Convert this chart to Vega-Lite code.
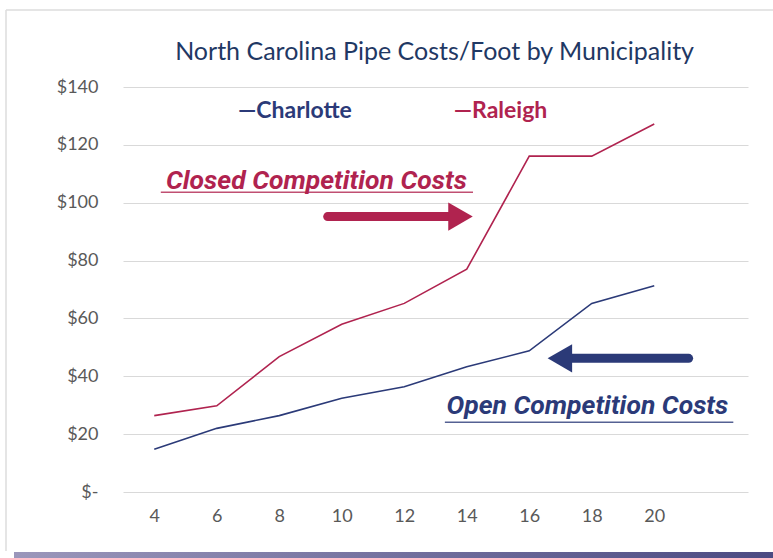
{
  "$schema": "https://vega.github.io/schema/vega-lite/v6.json",
  "width": 625,
  "height": 405,
  "autosize": "none",
  "padding": {"left": 123, "top": 87, "right": 25, "bottom": 66},
  "background": "white",
  "config": {
    "view": {"stroke": null},
    "font": "Lato"
  },
  "datasets": {
    "costs": [
      {"size": 4, "city": "Charlotte", "cost": 14.8},
      {"size": 6, "city": "Charlotte", "cost": 22.0},
      {"size": 8, "city": "Charlotte", "cost": 26.4},
      {"size": 10, "city": "Charlotte", "cost": 32.4},
      {"size": 12, "city": "Charlotte", "cost": 36.4},
      {"size": 14, "city": "Charlotte", "cost": 43.3},
      {"size": 16, "city": "Charlotte", "cost": 48.8},
      {"size": 18, "city": "Charlotte", "cost": 65.2},
      {"size": 20, "city": "Charlotte", "cost": 71.3},
      {"size": 4, "city": "Raleigh", "cost": 26.4},
      {"size": 6, "city": "Raleigh", "cost": 29.8},
      {"size": 8, "city": "Raleigh", "cost": 46.8},
      {"size": 10, "city": "Raleigh", "cost": 58.0},
      {"size": 12, "city": "Raleigh", "cost": 65.2},
      {"size": 14, "city": "Raleigh", "cost": 77.0},
      {"size": 16, "city": "Raleigh", "cost": 116.1},
      {"size": 18, "city": "Raleigh", "cost": 116.1},
      {"size": 20, "city": "Raleigh", "cost": 127.2}
    ],
    "title": [
      {"label": "North Carolina Pipe Costs/Foot by Municipality", "x": 12.97, "y": 152.1}
    ],
    "legend": [
      {"label": "—Charlotte", "city": "Charlotte", "x": 8.5, "y": 131.7},
      {"label": "—Raleigh", "city": "Raleigh", "x": 15.08, "y": 131.7}
    ],
    "notes": [
      {"label": "Closed Competition Costs", "city": "Raleigh", "x": 9.19, "y": 104.9},
      {"label": "Open Competition Costs", "city": "Charlotte", "x": 17.86, "y": 26.9}
    ],
    "underlines": [
      {"city": "Raleigh", "x": 4.21, "x2": 14.2, "y": 103.6},
      {"city": "Charlotte", "x": 13.3, "x2": 22.53, "y": 24.1}
    ],
    "shafts": [
      {"city": "Raleigh", "x": 9.55, "x2": 13.62, "y": 95.2},
      {"city": "Charlotte", "x": 17.14, "x2": 21.1, "y": 46.2}
    ],
    "heads": [
      {"city": "Raleigh", "x": 13.8, "y": 95.2, "dir": "right"},
      {"city": "Charlotte", "x": 16.98, "y": 46.2, "dir": "left"}
    ],
    "frameV": [
      {"x": -0.744, "y": 166.6, "y2": -20.4}
    ],
    "frameH": [
      {"x": -0.744, "x2": 24.2, "y": 166.6}
    ],
    "bar": [
      {"x": -0.488, "x2": 24.2, "y": -20.7, "y2": -23.3}
    ]
  },
  "layer": [
    {
      "data": {"name": "costs"},
      "mark": {"type": "line", "strokeWidth": 1.6, "clip": false},
      "encoding": {
        "x": {
          "field": "size",
          "type": "quantitative",
          "scale": {"domain": [3, 23], "nice": false, "zero": false},
          "axis": {
            "values": [4, 6, 8, 10, 12, 14, 16, 18, 20],
            "title": null,
            "grid": false,
            "domain": false,
            "ticks": false,
            "labelFont": "Lato",
            "labelFontSize": 18,
            "labelColor": "#595959",
            "labelPadding": 15
          }
        },
        "y": {
          "field": "cost",
          "type": "quantitative",
          "scale": {"domain": [0, 140], "nice": false},
          "axis": {
            "values": [0, 20, 40, 60, 80, 100, 120, 140],
            "title": null,
            "domain": false,
            "ticks": false,
            "gridColor": "#D9D9D9",
            "gridWidth": 1,
            "labelFont": "Lato",
            "labelFontSize": 18,
            "labelColor": "#595959",
            "labelPadding": 25,
            "labelExpr": "datum.value == 0 ? '$-' : '$' + datum.value"
          }
        },
        "color": {
          "field": "city",
          "type": "nominal",
          "scale": {"domain": ["Charlotte", "Raleigh"], "range": ["#2B3A78", "#B0234F"]},
          "legend": null
        },
        "detail": {"field": "city"}
      }
    },
    {
      "data": {"name": "title"},
      "mark": {"type": "text", "font": "Lato", "fontSize": 25, "color": "#1F3864", "align": "center", "baseline": "middle", "clip": false},
      "encoding": {
        "x": {"field": "x", "type": "quantitative"},
        "y": {"field": "y", "type": "quantitative"},
        "text": {"field": "label"}
      }
    },
    {
      "data": {"name": "legend"},
      "mark": {"type": "text", "font": "Lato", "fontSize": 23, "fontWeight": "bold", "align": "center", "baseline": "middle"},
      "encoding": {
        "x": {"field": "x", "type": "quantitative"},
        "y": {"field": "y", "type": "quantitative"},
        "text": {"field": "label"},
        "color": {"field": "city", "type": "nominal", "legend": null}
      }
    },
    {
      "data": {"name": "notes"},
      "mark": {"type": "text", "font": "Roboto", "fontSize": 26.5, "fontWeight": "bold", "fontStyle": "italic", "align": "center", "baseline": "alphabetic"},
      "encoding": {
        "x": {"field": "x", "type": "quantitative"},
        "y": {"field": "y", "type": "quantitative"},
        "text": {"field": "label"},
        "color": {"field": "city", "type": "nominal", "legend": null}
      }
    },
    {
      "data": {"name": "underlines"},
      "mark": {"type": "rule", "strokeWidth": 1.5, "opacity": 0.8, "clip": false},
      "encoding": {
        "x": {"field": "x", "type": "quantitative"},
        "x2": {"field": "x2"},
        "y": {"field": "y", "type": "quantitative"},
        "color": {"field": "city", "type": "nominal", "legend": null}
      }
    },
    {
      "data": {"name": "shafts"},
      "mark": {"type": "rule", "strokeWidth": 9, "strokeCap": "round", "clip": false},
      "encoding": {
        "x": {"field": "x", "type": "quantitative"},
        "x2": {"field": "x2"},
        "y": {"field": "y", "type": "quantitative"},
        "color": {"field": "city", "type": "nominal", "legend": null}
      }
    },
    {
      "data": {"name": "heads"},
      "mark": {"type": "point", "filled": true, "opacity": 1, "size": 800, "clip": false},
      "encoding": {
        "x": {"field": "x", "type": "quantitative"},
        "y": {"field": "y", "type": "quantitative"},
        "shape": {
          "field": "dir",
          "type": "nominal",
          "scale": {"domain": ["right", "left"], "range": ["triangle-right", "triangle-left"]},
          "legend": null
        },
        "color": {"field": "city", "type": "nominal", "legend": null}
      }
    },
    {
      "data": {"name": "frameV"},
      "mark": {"type": "rule", "color": "#DDDDDD", "strokeWidth": 1.5, "clip": false},
      "encoding": {
        "x": {"field": "x", "type": "quantitative"},
        "y": {"field": "y", "type": "quantitative"},
        "y2": {"field": "y2"}
      }
    },
    {
      "data": {"name": "frameH"},
      "mark": {"type": "rule", "color": "#DDDDDD", "strokeWidth": 1.5, "clip": false},
      "encoding": {
        "x": {"field": "x", "type": "quantitative"},
        "x2": {"field": "x2"},
        "y": {"field": "y", "type": "quantitative"}
      }
    },
    {
      "data": {"name": "bar"},
      "mark": {
        "type": "rect",
        "clip": false,
        "color": {
          "gradient": "linear",
          "x1": 0, "y1": 0, "x2": 1, "y2": 0,
          "stops": [
            {"offset": 0, "color": "#9B97BB"},
            {"offset": 1, "color": "#4A4981"}
          ]
        }
      },
      "encoding": {
        "x": {"field": "x", "type": "quantitative"},
        "x2": {"field": "x2"},
        "y": {"field": "y", "type": "quantitative"},
        "y2": {"field": "y2"}
      }
    }
  ]
}
